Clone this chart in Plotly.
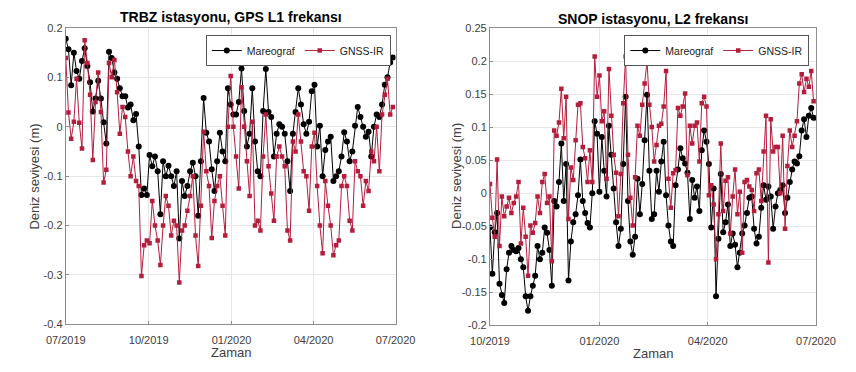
import pandas as pd
import plotly.graph_objects as go

# ---------------- data ----------------
trbz_start = "2019-07-01"
trbz_step_days = 3
trbz_mareograf = [
    0.178, 0.157, 0.084, 0.150, 0.113, 0.097, 0.133, 0.159, 0.123, 0.090,
    0.031, 0.057, 0.093, 0.057, 0.009, -0.034, 0.152, 0.139, 0.110, 0.097,
    0.078, 0.062, 0.062, 0.039, 0.045, 0.013, 0.026, -0.040, -0.138, -0.125,
    -0.138, -0.057, -0.080, -0.060, -0.090, -0.177, -0.070, -0.100, -0.079, -0.100,
    -0.120, -0.090, -0.226, -0.110, -0.140, -0.120, -0.090, -0.073, -0.100, -0.180,
    -0.070, 0.058, -0.012, -0.030, -0.086, -0.130, -0.070, -0.012, -0.050, -0.070,
    0.078, 0.045, 0.025, 0.025, 0.050, 0.118, 0.032, -0.040, -0.014, 0.078,
    -0.030, -0.090, -0.100, 0.032, 0.117, 0.030, 0.020, -0.060, -0.014, 0.005,
    0.000, -0.014, -0.070, -0.130, -0.014, 0.030, 0.078, 0.045, 0.005, -0.014,
    0.010, 0.072, 0.085, -0.040, 0.002, -0.100, -0.047, -0.030, -0.020, -0.110,
    -0.100, -0.090, -0.060, -0.011, -0.030, -0.070, -0.050, 0.002, 0.040, 0.020,
    0.000, -0.020, -0.010, -0.060, 0.000, 0.025, 0.020, 0.045, 0.085, 0.100,
    0.130, 0.140,
]
trbz_gnss = [
    0.139, 0.029, -0.024, 0.010, 0.097, 0.008, -0.044, 0.175, 0.129, 0.065,
    -0.067, 0.050, 0.110, 0.030, -0.113, -0.087, 0.129, 0.100, 0.135, 0.070,
    -0.014, 0.040, 0.020, -0.050, -0.100, -0.060, -0.110, -0.120, -0.302, -0.240,
    -0.230, -0.236, -0.150, -0.200, -0.230, -0.280, -0.200, -0.140, -0.160, -0.220,
    -0.190, -0.200, -0.315, -0.210, -0.200, -0.170, -0.140, -0.100, -0.220, -0.282,
    -0.160, -0.010, -0.090, -0.120, -0.225, -0.150, -0.120, -0.100, -0.160, -0.220,
    0.000, 0.103, 0.000, -0.060, -0.125, 0.080, 0.000, -0.070, -0.140, 0.010,
    -0.200, -0.190, -0.210, -0.060, 0.025, -0.080, -0.135, -0.190, -0.060, -0.040,
    -0.060, -0.080, -0.210, -0.230, -0.030, -0.050, 0.025, -0.030, -0.090, -0.100,
    -0.170, -0.040, -0.012, -0.120, -0.200, -0.256, -0.110, -0.160, -0.200, -0.260,
    -0.240, -0.230, -0.120, -0.100, -0.120, -0.190, -0.210, -0.070, -0.090, -0.100,
    -0.160, -0.110, -0.130, -0.050, -0.070, 0.000, -0.090, 0.025, 0.065, 0.097,
    0.025, 0.040,
]

snop_start = "2019-10-01"
snop_step_days = 2
snop_mareograf = [
    -0.052, -0.122, -0.059, -0.030, -0.137, -0.154, -0.166, -0.115, -0.090, -0.080,
    -0.086, -0.088, -0.083, -0.100, -0.112, -0.156, -0.178, -0.156, -0.140, -0.125,
    -0.080, -0.100, -0.090, -0.052, -0.060, -0.086, -0.140, -0.012, -0.020, 0.017,
    0.075, -0.012, 0.044, -0.132, -0.073, -0.044, -0.032, -0.003, 0.051, -0.012,
    -0.030, -0.045, -0.052, 0.000, 0.109, 0.090, 0.002, 0.085, 0.034, -0.005,
    0.102, 0.058, 0.007, -0.044, -0.080, -0.054, 0.044, 0.146, -0.012, -0.073,
    -0.093, -0.066, 0.022, -0.032, 0.014, 0.080, 0.149, 0.034, -0.039, -0.032,
    0.034, 0.002, 0.048, 0.078, -0.003, -0.049, -0.073, -0.080, 0.012, 0.036,
    0.068, 0.053, 0.045, 0.031, -0.039, 0.020, -0.007, 0.010, -0.027, 0.065,
    0.095, 0.078, 0.044, -0.052, 0.007, -0.156, -0.069, 0.029, -0.059, -0.044,
    -0.017, -0.080, -0.061, -0.078, -0.112, -0.090, -0.061, -0.049, -0.030, -0.007,
    -0.005, -0.054, -0.076, -0.066, -0.022, 0.012, -0.010, 0.010, -0.005, -0.054,
    -0.020, 0.000, 0.005, 0.012, -0.030, -0.007, 0.017, 0.036, 0.048, 0.045,
    0.056, 0.095, 0.112, 0.085, 0.117, 0.129, 0.114,
]
snop_gnss = [
    0.014, -0.037, -0.066, 0.051, -0.080, -0.005, -0.035, -0.020, -0.007, -0.030,
    -0.015, -0.005, 0.017, -0.076, -0.022, -0.066, -0.125, -0.049, -0.060, -0.045,
    -0.005, -0.030, 0.017, 0.029, -0.015, -0.005, -0.103, 0.095, 0.087, 0.107,
    0.158, 0.083, 0.146, -0.039, 0.039, 0.020, 0.080, 0.134, 0.136, 0.070,
    0.053, 0.017, 0.065, 0.017, 0.207, 0.146, 0.178, 0.109, 0.124, 0.022,
    0.188, 0.117, 0.058, 0.031, -0.035, 0.029, 0.136, 0.207, 0.058, -0.007,
    -0.049, 0.024, 0.102, 0.087, 0.134, 0.166, 0.200, 0.134, 0.100, 0.048,
    0.073, 0.102, 0.105, 0.131, 0.185, 0.022, -0.022, 0.030, 0.035, 0.129,
    0.117, 0.131, 0.151, 0.027, 0.102, 0.075, 0.102, 0.107, 0.048, 0.136,
    0.146, 0.131, -0.003, 0.012, -0.017, -0.100, -0.032, 0.075, -0.027, 0.019,
    0.024, -0.061, -0.005, 0.036, -0.032, 0.002, -0.090, 0.017, 0.020, 0.010,
    0.005, -0.027, 0.030, 0.036, -0.012, 0.063, 0.117, -0.105, 0.112, 0.063,
    0.070, 0.070, 0.000, 0.087, -0.054, 0.041, 0.095, 0.070, 0.087, 0.109,
    0.166, 0.180, 0.153, 0.173, 0.161, 0.185, 0.139,
]

trbz_ticks = ["2019-07-01", "2019-10-01", "2020-01-01", "2020-04-01", "2020-07-01"]
trbz_ticklabels = ["07/2019", "10/2019", "01/2020", "04/2020", "07/2020"]
snop_ticks = ["2019-10-01", "2020-01-01", "2020-04-01", "2020-07-01"]
snop_ticklabels = ["10/2019", "01/2020", "04/2020", "07/2020"]
trbz_yticks = [0.2, 0.1, 0, -0.1, -0.2, -0.3, -0.4]
trbz_yticklabels = ["0.2", "0.1", "0", "-0.1", "-0.2", "-0.3", "-0.4"]
snop_yticks = [0.25, 0.2, 0.15, 0.1, 0.05, 0, -0.05, -0.1, -0.15, -0.2]
snop_yticklabels = ["0.25", "0.2", "0.15", "0.1", "0.05", "0", "-0.05", "-0.1", "-0.15", "-0.2"]

titles = ["TRBZ istasyonu, GPS L1 frekansı", "SNOP istasyonu, L2 frekansı"]
series_names = ["Mareograf", "GNSS-IR"]
ylabel = "Deniz seviyesi (m)"
xlabel = "Zaman"

# ---------------- figure ----------------
trbz_dates = pd.date_range(trbz_start, periods=len(trbz_mareograf), freq=f"{trbz_step_days}D")
snop_dates = pd.date_range(snop_start, periods=len(snop_mareograf), freq=f"{snop_step_days}D")

BLACK = "#000000"
RED = "#b41e3c"
FONT = "Liberation Sans, Arial, sans-serif"
W, H = 856, 372

fig = go.Figure()

def add_pair(dates, mar, gnss, xa, ya, legend):
    fig.add_trace(go.Scatter(
        x=dates, y=mar, mode="lines+markers", name=series_names[0],
        line=dict(color=BLACK, width=1), marker=dict(symbol="circle", size=6, color=BLACK),
        xaxis=xa, yaxis=ya, legend=legend))
    fig.add_trace(go.Scatter(
        x=dates, y=gnss, mode="lines+markers", name=series_names[1],
        line=dict(color=RED, width=1), marker=dict(symbol="square", size=4.5, color=RED),
        xaxis=xa, yaxis=ya, legend=legend))

add_pair(trbz_dates, trbz_mareograf, trbz_gnss, "x", "y", "legend")
add_pair(snop_dates, snop_mareograf, snop_gnss, "x2", "y2", "legend2")

def px_x(p):
    return p / W

def px_y(p):
    return 1 - p / H

axis_common = dict(
    showline=True, linecolor="#8c8c8c", linewidth=1, mirror=True,
    showgrid=True, gridcolor="#e6e6e6", gridwidth=1, zeroline=False,
    ticks="inside", ticklen=3, tickcolor="#8c8c8c",
    tickfont=dict(family=FONT, size=11, color="#404040"),
)

fig.update_layout(
    width=W, height=H, margin=dict(l=0, r=0, t=0, b=0),
    paper_bgcolor="white", plot_bgcolor="white",
    font=dict(family=FONT),
    xaxis=dict(domain=[px_x(48), px_x(394)], anchor="y", type="date",
               range=[trbz_ticks[0], trbz_ticks[-1]], ticklabelstandoff=5,
               tickvals=trbz_ticks, ticktext=trbz_ticklabels, **axis_common),
    yaxis=dict(domain=[px_y(329), px_y(22.7)], anchor="x",
               range=[-0.4, 0.2], tickvals=trbz_yticks, ticktext=trbz_yticklabels, **axis_common),
    xaxis2=dict(domain=[px_x(493), px_x(835)], anchor="y2", type="date",
                range=[snop_ticks[0], snop_ticks[-1]], ticklabelstandoff=5,
                tickvals=snop_ticks, ticktext=snop_ticklabels, **axis_common),
    yaxis2=dict(domain=[px_y(330), px_y(22.7)], anchor="x2",
                range=[-0.2, 0.25], tickvals=snop_yticks, ticktext=snop_yticklabels, **axis_common),
    legend=dict(orientation="h", x=px_x(389), xanchor="right", y=px_y(30), yanchor="top",
                bgcolor="white", bordercolor="#555555", borderwidth=1,
                font=dict(family=FONT, size=10.5, color="#222222"),
                itemwidth=30, tracegroupgap=0),
    legend2=dict(orientation="h", x=px_x(828), xanchor="right", y=px_y(30), yanchor="top",
                 bgcolor="white", bordercolor="#555555", borderwidth=1,
                 font=dict(family=FONT, size=10.5, color="#222222"),
                 itemwidth=30, tracegroupgap=0),
    showlegend=True,
)

def label(text, x, y, size, color, angle=0):
    return dict(text=text, x=px_x(x), y=px_y(y), xref="paper", yref="paper",
                xanchor="center", yanchor="middle", textangle=angle,
                showarrow=False, font=dict(family=FONT, size=size, color=color))

annotations = [
    label(f"<b>{titles[0]}</b>", 221, 11, 14, "black"),
    label(f"<b>{titles[1]}</b>", 664, 13, 14, "black"),
    label(ylabel, 15, 176, 13, "#404040", -90),
    label(ylabel, 458, 176, 13, "#404040", -90),
    label(xlabel, 221, 358, 13, "#404040"),
    label(xlabel, 664, 359, 13, "#404040"),
]
fig.update_layout(annotations=annotations)

fig.write_html("out.html")
